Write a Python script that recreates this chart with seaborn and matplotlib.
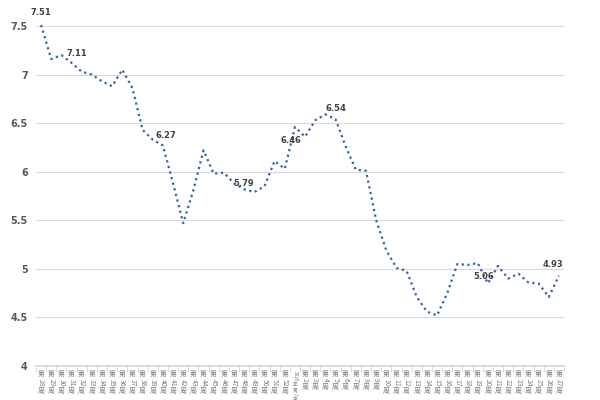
import re
import matplotlib
matplotlib.use("Agg")
import matplotlib.pyplot as plt
from matplotlib.transforms import offset_copy
import seaborn as sns
import pandas as pd
import numpy as np

# 周次标签
weeks = ["第%d周" % w for w in range(28, 53)] + ["2026年第1周"] + ["第%d周" % w for w in range(2, 28)]

# 周均价
price = [7.51, 7.16, 7.20, 7.12, 7.03, 7.00, 6.93, 6.88, 7.05, 6.86,
         6.43, 6.33, 6.27, 5.88, 5.47, 5.81, 6.22, 5.98, 5.99, 5.88,
         5.82, 5.79, 5.85, 6.11, 6.03, 6.46, 6.36, 6.53, 6.59, 6.54,
         6.26, 6.02, 6.01, 5.50, 5.19, 5.01, 4.98, 4.71, 4.56, 4.52,
         4.75, 5.05, 5.04, 5.06, 4.85, 5.03, 4.90, 4.95, 4.86, 4.85,
         4.71, 4.93]

# 标注的点
label_idx = [0, 3, 12, 21, 25, 29, 43, 51]
label_txt = ["7.51", "7.11", "6.27", "5.79", "6.46", "6.54", "5.06", "4.93"]
label_off = [(0, 9), (4, 7), (2, 7), (-8, 6), (-3, -10), (0, 8), (4, -10), (-4, 8)]

sns.set_theme(style="white")
plt.rcParams['font.family'] = ['Noto Sans CJK SC', 'DejaVu Sans']

df = pd.DataFrame({"idx": np.arange(len(price)), "price": price})

fig, ax = plt.subplots(figsize=(6, 4), dpi=100)
fig.subplots_adjust(left=0.06, right=0.94, top=0.935, bottom=0.085)

sns.lineplot(data=df, x="idx", y="price", ax=ax, color="#3560ac",
             linestyle=(0, (1, 1.6)), linewidth=1.6, clip_on=False)

for i, t, (dx, dy) in zip(label_idx, label_txt, label_off):
    ax.annotate(t, (i, price[i]), xytext=(dx, dy), annotation_clip=False,
                textcoords="offset points", ha="center", va="center",
                fontsize=6, fontweight="bold", color="#404040",
                family="DejaVu Sans")

ax.set_xlim(-0.5, len(price) - 0.5)
ax.set_ylim(4, 7.5)
ax.set_yticks([4, 4.5, 5, 5.5, 6, 6.5, 7, 7.5])
ax.set_yticklabels(["4", "4.5", "5", "5.5", "6", "6.5", "7", "7.5"],
                   fontsize=7, color="#595959", fontweight="bold", family="DejaVu Sans")
ax.yaxis.grid(True, color="#d9d9d9", linewidth=0.8)
ax.tick_params(axis="y", length=0, pad=6)

# 竖排的x轴标签: 汉字直立, 数字旋转
ax.set_xticks(range(len(weeks)))
ax.set_xticklabels([])
ax.set_xticks(np.arange(-0.5, len(weeks)), minor=True)
ax.tick_params(axis="x", which="major", length=0)
ax.tick_params(axis="x", which="minor", length=4, color="#d9d9d9", width=0.8, bottom=True)

trans = ax.get_xaxis_transform()
for i, w in enumerate(weeks):
    fs = 5 if len(w) <= 4 else 3.3
    y = -3.0
    for tok in re.findall(r"\d+|\D", w):
        if tok.isdigit():
            h, rot = len(tok) * 0.62 * fs, -90
        else:
            h, rot = fs * 1.08, 0
        tr = offset_copy(trans, fig=fig, x=0, y=y - h / 2, units="points")
        ax.text(i, 0, tok, transform=tr, rotation=rot, ha="center", va="center",
                fontsize=fs, color="#7f7f7f", clip_on=False)
        y -= h + 0.4

for s in ["top", "right", "left"]:
    ax.spines[s].set_visible(False)
ax.spines["bottom"].set_color("#d9d9d9")
ax.set_xlabel("")
ax.set_ylabel("")

fig.savefig("out.png", dpi=100)
